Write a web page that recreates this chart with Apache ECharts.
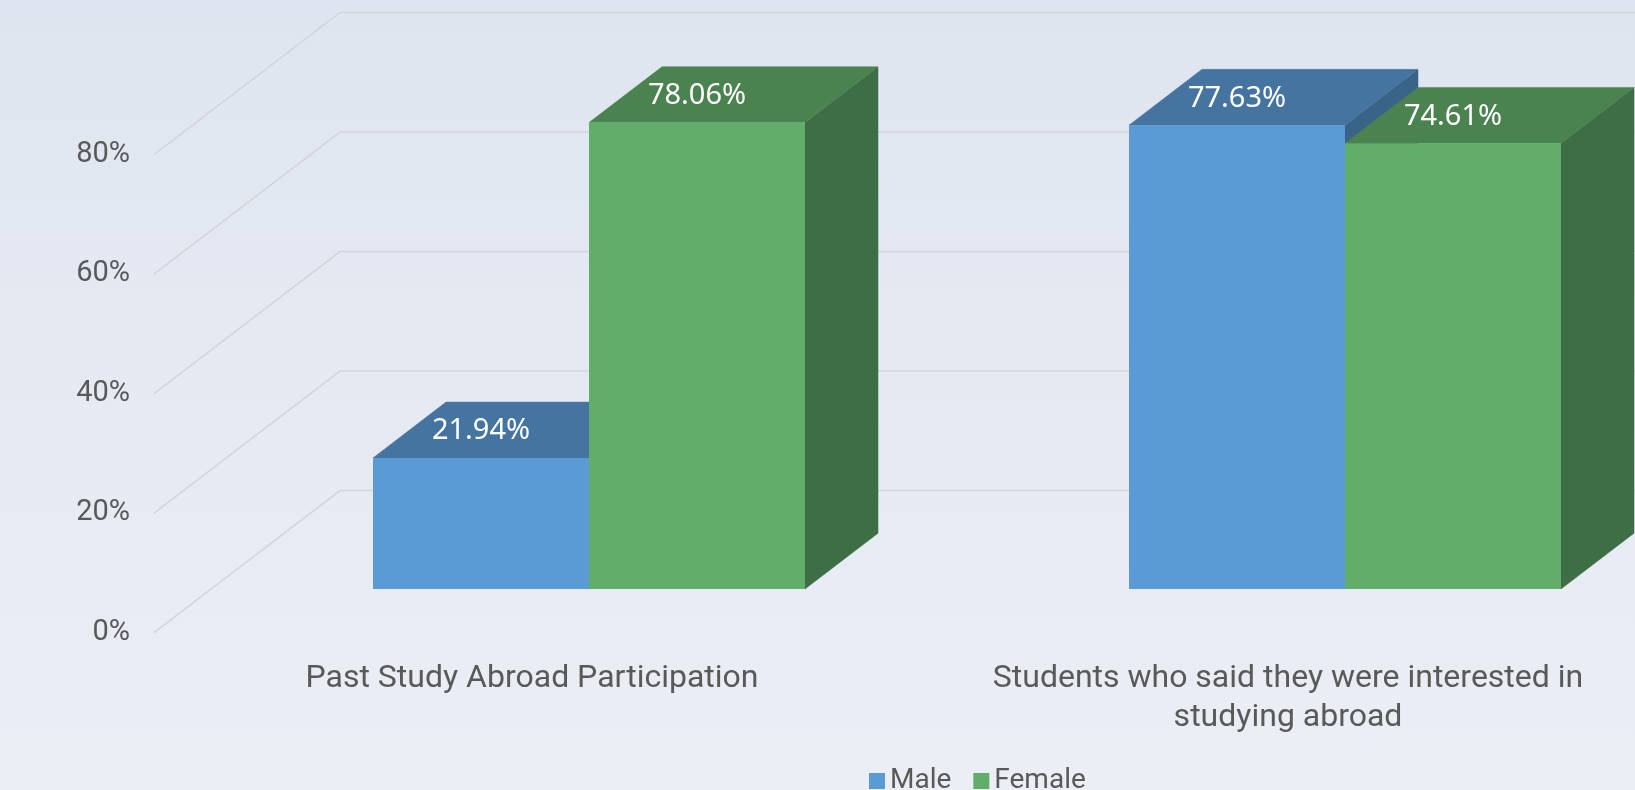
<!DOCTYPE html>
<html>
<head>
<meta charset="utf-8">
<title>Study Abroad by Gender</title>
<script src="https://cdn.jsdelivr.net/npm/echarts@6/dist/echarts.min.js"></script>
<style>
    html, body { margin: 0; padding: 0; }
    #chart { width: 1635px; height: 790px; }
</style>
</head>
<body>
<div id="chart"></div>
<script>
const categories = ['Past Study Abroad Participation', 'Students who said they were interested in\nstudying abroad'];
const seriesNames = ['Male', 'Female'];
const maleValues = [21.94, 77.63];
const femaleValues = [78.06, 74.61];
const yTicks = [0, 20, 40, 60, 80];

// fake 3D: offsets from the plane of the bar fronts
const FRONT = [-57, 43.6];   // plane with the axis labels
const DEPTH = [73, -55.8];   // bar depth
const BACK = [129, -98.4];   // back wall

const faces = {
    Male: { front: '#5b9bd5', top: '#44749f', side: '#3a6388' },
    Female: { front: '#61ad6a', top: '#4a8250', side: '#3e6e45' }
};

const chart = echarts.init(document.getElementById('chart'));

function gridRender(params, api) {
    const y = api.coord([0, api.value(0)])[1];
    const x0 = params.coordSys.x;
    const x1 = x0 + params.coordSys.width;
    return {
        type: 'polyline',
        shape: {
            points: [
                [x0 + FRONT[0], y + FRONT[1]],
                [x0 + BACK[0], y + BACK[1]],
                [x1 + BACK[0], y + BACK[1]]
            ]
        },
        style: { stroke: '#d3d5d8', lineWidth: 1.5, fill: null },
        silent: true
    };
}

function barRender(name, slot) {
    const c = faces[name];
    return function (params, api) {
        const idx = api.value(0);
        const val = api.value(1);
        const top = api.coord([idx, val]);
        const base = api.coord([idx, 0]);
        const bw = api.size([1, 0])[0] / 3.5;   // gap width 150%
        const xa = top[0] + slot * bw;
        const xb = xa + bw;
        const yt = top[1], yb = base[1];
        const dx = DEPTH[0], dy = DEPTH[1];
        return {
            type: 'group',
            children: [
                {
                    type: 'polygon',
                    shape: { points: [[xb, yt], [xb + dx, yt + dy], [xb + dx, yb + dy], [xb, yb]] },
                    style: { fill: c.side, stroke: c.side, lineWidth: 0.5 }
                },
                {
                    type: 'polygon',
                    shape: { points: [[xa, yt], [xa + dx, yt + dy], [xb + dx, yt + dy], [xb, yt]] },
                    style: { fill: c.top, stroke: c.top, lineWidth: 0.5 }
                },
                {
                    type: 'rect',
                    shape: { x: xa, y: yt, width: bw, height: yb - yt },
                    style: { fill: c.front }
                },
                {
                    type: 'text',
                    x: (xa + xb) / 2,
                    y: yt + dy / 2 + 1,
                    style: {
                        text: val.toFixed(2) + '%',
                        fill: '#ffffff',
                        font: '29px "Noto Sans"',
                        align: 'center',
                        verticalAlign: 'middle'
                    }
                }
            ]
        };
    };
}

chart.setOption({
    backgroundColor: new echarts.graphic.LinearGradient(0, 0, 0, 1, [
        { offset: 0, color: '#dfe5f0' },
        { offset: 1, color: '#ebeef5' }
    ]),
    animation: false,
    legend: {
        data: seriesNames,
        left: 864,
        top: 762,
        icon: 'rect',
        itemWidth: 16,
        itemHeight: 16,
        itemGap: 22,
        textStyle: { color: '#595959', fontSize: 28, fontFamily: 'Roboto' }
    },
    grid: [
        { left: 211, top: 111, width: 1512, height: 478, outerBoundsMode: 'none' },   // bar fronts
        { left: 154, top: 154.6, width: 1512, height: 478, outerBoundsMode: 'none' }  // labels
    ],
    xAxis: [
        { gridIndex: 0, type: 'category', data: categories, show: false },
        {
            gridIndex: 1,
            type: 'category',
            data: categories,
            axisLine: { show: false },
            axisTick: { show: false },
            axisLabel: {
                interval: 0,
                hideOverlap: false,
                margin: 27,
                color: '#595959',
                fontSize: 32,
                fontFamily: 'Roboto',
                lineHeight: 39,
                align: 'center'
            }
        }
    ],
    yAxis: [
        { gridIndex: 0, type: 'value', min: 0, max: 80, interval: 20, show: false },
        {
            gridIndex: 1,
            type: 'value',
            min: 0,
            max: 80,
            interval: 20,
            axisLine: { show: false },
            axisTick: { show: false },
            splitLine: { show: false },
            axisLabel: {
                margin: 24,
                color: '#595959',
                fontSize: 29,
                fontFamily: 'Roboto',
                formatter: '{value}%'
            }
        }
    ],
    series: [
        {
            type: 'custom',
            name: 'gridlines',
            xAxisIndex: 0,
            yAxisIndex: 0,
            renderItem: gridRender,
            data: yTicks.map(v => [v]),
            encode: { y: 0 },
            silent: true,
            z: 1
        },
        {
            type: 'custom',
            name: 'Male',
            xAxisIndex: 0,
            yAxisIndex: 0,
            itemStyle: { color: faces.Male.front },
            renderItem: barRender('Male', -1),
            data: maleValues.map((v, i) => [i, v]),
            encode: { x: 0, y: 1 },
            z: 2
        },
        {
            type: 'custom',
            name: 'Female',
            xAxisIndex: 0,
            yAxisIndex: 0,
            itemStyle: { color: faces.Female.front },
            renderItem: barRender('Female', 0),
            data: femaleValues.map((v, i) => [i, v]),
            encode: { x: 0, y: 1 },
            z: 3
        }
    ]
});
</script>
</body>
</html>
